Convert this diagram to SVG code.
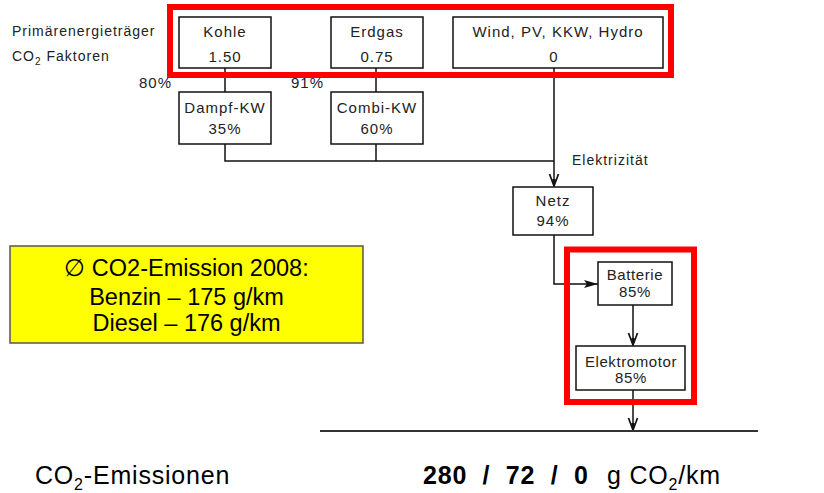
<svg xmlns="http://www.w3.org/2000/svg" width="824" height="493" viewBox="0 0 824 493">
<style>
.box{fill:#fff;stroke:#111;stroke-width:1.5}
.t{font-family:"Liberation Sans",Arial,sans-serif;font-size:15px;fill:#222;letter-spacing:1px;text-anchor:middle}
.t2{font-family:"Liberation Sans",Arial,sans-serif;font-size:15px;fill:#222;letter-spacing:0.6px;text-anchor:middle}
.lbl{font-family:"Liberation Sans",Arial,sans-serif;font-size:14px;fill:#222;letter-spacing:1px}
.ln{fill:none;stroke:#111;stroke-width:1.5}
.red{fill:none;stroke:#ff0000;stroke-width:6}
.y{font-family:"Liberation Sans",Arial,sans-serif;font-size:23.5px;fill:#000;text-anchor:middle}
.big{font-family:"Liberation Sans",Arial,sans-serif;font-size:25px;fill:#000;letter-spacing:0.8px}
</style>
<defs>
<marker id="av" markerWidth="14" markerHeight="12" refX="13" refY="6" orient="auto" markerUnits="userSpaceOnUse" viewBox="0 0 14 12">
<path d="M1,1.5 L13,6 L1,10.5" fill="none" stroke="#111" stroke-width="1.7"/>
<path d="M6,4.2 L13,6 L6,7.8 Z" fill="#111"/>
</marker>
<marker id="af" markerWidth="14" markerHeight="10" refX="14" refY="5" orient="auto" markerUnits="userSpaceOnUse" viewBox="0 0 14 10">
<path d="M0,1 L14,5 L0,9 L3,5 Z" fill="#111"/>
</marker>
</defs>

<text class="lbl" x="12" y="36">Primärenergieträger</text>
<text class="lbl" x="12" y="61">CO<tspan font-size="10" dy="4">2</tspan><tspan dy="-4"> Faktoren</tspan></text>
<text class="t" x="139" y="88" style="text-anchor:start">80%</text>
<text class="t" x="291" y="88" style="text-anchor:start">91%</text>

<g id="connectors">
<path class="ln" d="M225,68 V92"/>
<path class="ln" d="M376,68 V92"/>
<path class="ln" d="M225,144 V161 H554"/>
<path class="ln" d="M376,144 V161"/>
<path class="ln" d="M554,68 V186" marker-end="url(#av)"/>
<path class="ln" d="M554,235 V284 H598" marker-end="url(#af)"/>
<path class="ln" d="M633,305 V345" marker-end="url(#av)"/>
<path class="ln" d="M633,390 V430" marker-end="url(#av)"/>
<path d="M320,431 H758" fill="none" stroke="#333" stroke-width="2"/>
</g>

<g id="kohle"><rect class="box" x="179" y="17" width="92" height="51"/><text class="t" x="225" y="37">Kohle</text><text class="t" x="225" y="62">1.50</text></g>
<g id="erdgas"><rect class="box" x="331" y="17" width="92" height="51"/><text class="t" x="377" y="37">Erdgas</text><text class="t" x="377" y="62">0.75</text></g>
<g id="wind"><rect class="box" x="453" y="17" width="210" height="51"/><text class="t" x="558" y="37">Wind, PV, KKW, Hydro</text><text class="t" x="554" y="62">0</text></g>
<g id="dampf"><rect class="box" x="179" y="92" width="92" height="52"/><text class="t" x="225" y="113">Dampf-KW</text><text class="t" x="225" y="134">35%</text></g>
<g id="combi"><rect class="box" x="331" y="92" width="92" height="52"/><text class="t" x="377" y="113">Combi-KW</text><text class="t" x="377" y="134">60%</text></g>
<text class="lbl" x="572" y="165">Elektrizität</text>
<g id="netz"><rect class="box" x="513" y="187" width="80" height="48"/><text class="t" x="553" y="206">Netz</text><text class="t" x="553" y="226">94%</text></g>
<g id="batterie"><rect class="box" x="598" y="262" width="74" height="43"/><text class="t2" x="635" y="280">Batterie</text><text class="t2" x="635" y="297">85%</text></g>
<g id="elektromotor"><rect class="box" x="576" y="346" width="109" height="44"/><text class="t2" x="631" y="367">Elektromotor</text><text class="t2" x="631" y="383">85%</text></g>

<g id="emission-box">
<rect x="10" y="246" width="353" height="97" fill="#ffff00" stroke="#555" stroke-width="1.5"/>
<text class="y" x="186.5" y="276">∅ CO2-Emission 2008:</text>
<text class="y" x="186.5" y="305">Benzin – 175 g/km</text>
<text class="y" x="186.5" y="331">Diesel – 176 g/km</text>
</g>

<rect class="red" x="170" y="7" width="501" height="68"/>
<rect class="red" x="567" y="249.5" width="127" height="152.5"/>

<text class="big" x="35" y="484">CO<tspan font-size="16" dy="6">2</tspan><tspan dy="-6">-Emissionen</tspan></text>
<text class="big" x="423" y="484" font-weight="bold" letter-spacing="0" xml:space="preserve">280  /  72  /  0</text>
<text class="big" x="607" y="484">g CO<tspan font-size="16" dy="6">2</tspan><tspan dy="-6">/km</tspan></text>
</svg>
